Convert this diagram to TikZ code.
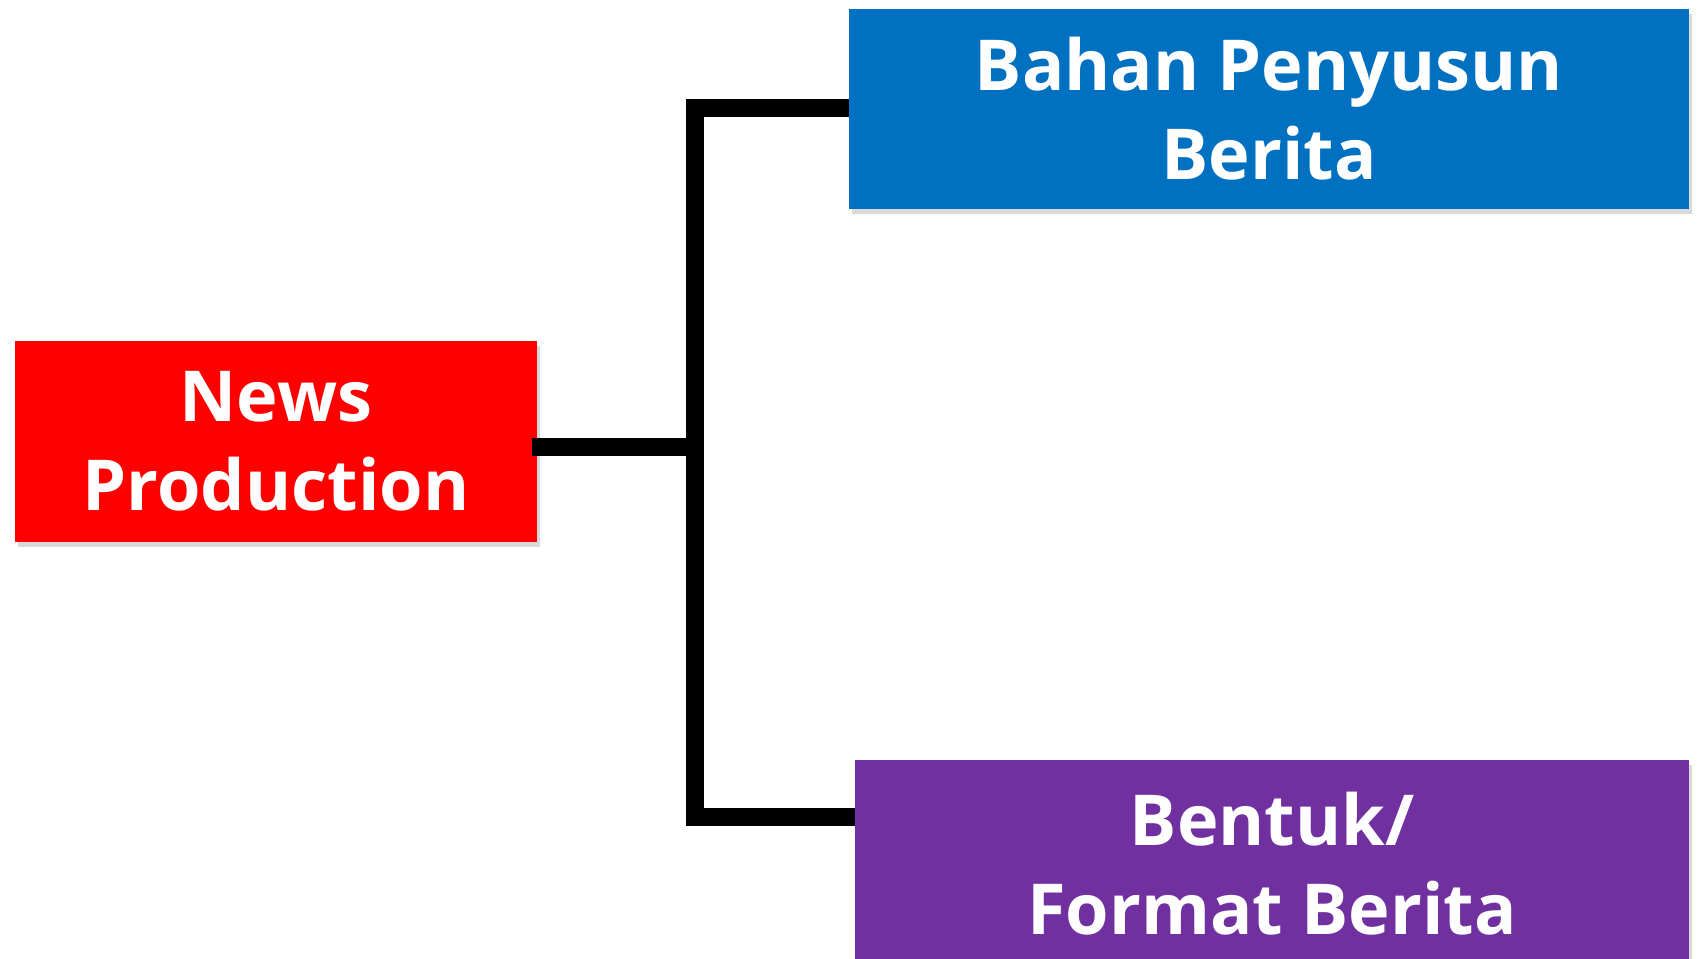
\documentclass[tikz,border=0pt]{standalone}
\usepackage{fontspec}
\setmainfont{Open Sans}
\usetikzlibrary{shadows}

\definecolor{newsred}{HTML}{FF0000}
\definecolor{bahanblue}{HTML}{0070C0}
\definecolor{bentukpurple}{HTML}{7030A0}

\begin{document}
\begin{tikzpicture}[
		box/.style={inner sep=0pt, align=center, text=white,
			font=\bfseries\fontsize{40}{50.6}\selectfont,
			drop shadow={shadow xshift=0.06cm, shadow yshift=-0.1cm, opacity=0.3}},
		link/.style={line width=0.36cm, line join=miter, black}
	]
		\useasboundingbox (0,0) rectangle (34.08,-19.16);
		\node[box, fill=newsred, minimum width=10.44cm, minimum height=4.02cm] (news) at (5.52,-8.83) {News\\Production};
		\node[box, fill=bahanblue, minimum width=16.8cm, minimum height=4cm] (bahan) at (25.38,-2.18) {Bahan Penyusun\\Berita};
		\node[box, fill=bentukpurple, minimum width=16.68cm, minimum height=4.16cm] (bentuk) at (25.44,-17.28) {Bentuk/\\Format Berita};
		\coordinate (top) at (13.9,-2.15);
		\coordinate (bot) at (13.9,-16.33);
		\draw[link] (bahan.west |- top) -- (top) -- (bot) -- (bentuk.west |- bot);
		\draw[link] ([xshift=-0.1cm, yshift=-0.1cm]news.east) -- ([yshift=-0.1cm]news.east -| top);
\end{tikzpicture}
\end{document}
